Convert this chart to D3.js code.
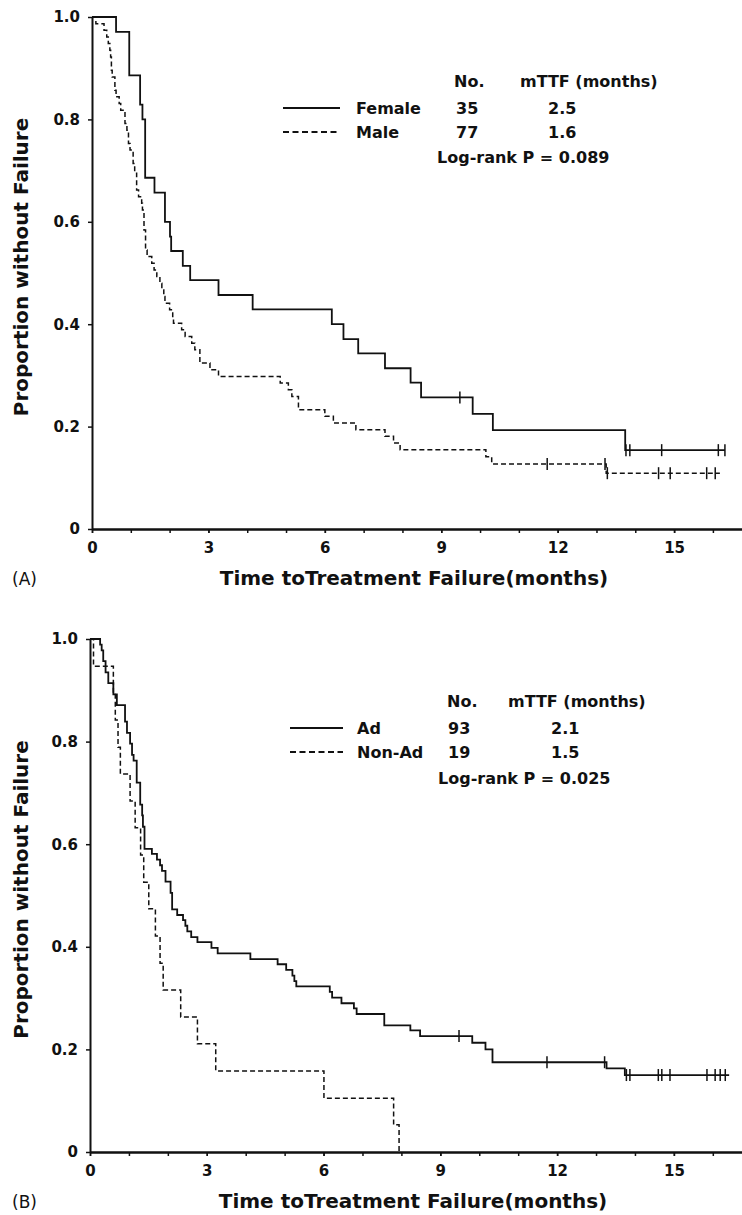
<!DOCTYPE html>
<html>
<head>
<meta charset="utf-8">
<script src="https://cdn.jsdelivr.net/npm/d3@7"></script>
<style>
  body { margin: 0; background: #fff; }
  svg text { font-family: "DejaVu Sans", sans-serif; font-weight: bold; fill: #111; }
</style>
</head>
<body>
<svg id="chart" width="742" height="1215"></svg>
<script>
// ---- values ----
var xTicks = [0, 3, 6, 9, 12, 15];
var xMinorTicks = [0, 1, 2, 3, 4, 5, 6, 7, 8, 9, 10, 11, 12, 13, 14, 15, 16];
var yTicks = [0, 0.2, 0.4, 0.6, 0.8, 1.0];
var yTickLabels = ["0", "0.2", "0.4", "0.6", "0.8", "1.0"];

// (A) female / male
var femaleTime = [0.62, 0.96, 1.24, 1.30, 1.37, 1.61, 1.88, 2.01, 2.04, 2.34, 2.53, 3.26, 4.14, 6.18, 6.48, 6.86, 7.55, 8.21, 8.48, 9.81, 10.33, 13.74];
var femaleSurv = [0.971, 0.886, 0.829, 0.800, 0.686, 0.657, 0.600, 0.571, 0.543, 0.514, 0.486, 0.457, 0.429, 0.400, 0.371, 0.343, 0.314, 0.286, 0.257, 0.225, 0.193, 0.154];
var femaleCensor = [9.48, 13.76, 13.86, 14.68, 16.14, 16.31];
var femaleEnd = 16.31;

var maleTime = [0.10, 0.31, 0.38, 0.42, 0.46, 0.48, 0.50, 0.52, 0.59, 0.62, 0.70, 0.74, 0.85, 0.90, 0.94, 0.98, 1.06, 1.10, 1.15, 1.20, 1.28, 1.30, 1.34, 1.38, 1.42, 1.54, 1.60, 1.67, 1.75, 1.80, 1.85, 1.88, 2.00, 2.08, 2.10, 2.31, 2.40, 2.57, 2.65, 2.78, 3.04, 3.26, 4.85, 5.06, 5.15, 5.32, 6.00, 6.22, 6.80, 7.55, 7.77, 7.94, 10.15, 10.30, 13.25];
var maleSurv = [0.987, 0.974, 0.961, 0.948, 0.935, 0.922, 0.896, 0.883, 0.857, 0.844, 0.831, 0.818, 0.792, 0.779, 0.753, 0.740, 0.714, 0.695, 0.662, 0.649, 0.636, 0.623, 0.584, 0.545, 0.532, 0.519, 0.506, 0.493, 0.480, 0.467, 0.454, 0.441, 0.428, 0.415, 0.402, 0.389, 0.376, 0.363, 0.350, 0.324, 0.311, 0.298, 0.285, 0.272, 0.259, 0.233, 0.220, 0.207, 0.194, 0.181, 0.168, 0.155, 0.141, 0.127, 0.109];
var maleCensor = [11.73, 13.22, 13.28, 14.60, 14.90, 15.84, 16.06];
var maleEnd = 16.18;

// (B) Ad / Non-Ad
var adTime = [0.26, 0.30, 0.34, 0.40, 0.47, 0.60, 0.69, 0.90, 0.95, 1.03, 1.08, 1.12, 1.20, 1.29, 1.34, 1.36, 1.40, 1.59, 1.72, 1.80, 1.85, 1.94, 2.07, 2.11, 2.24, 2.39, 2.45, 2.50, 2.60, 2.76, 3.12, 3.28, 4.12, 4.82, 5.04, 5.20, 5.25, 5.30, 6.16, 6.22, 6.46, 6.78, 6.85, 7.56, 8.23, 8.48, 9.82, 10.16, 10.34, 13.27, 13.74];
var adSurv = [0.989, 0.978, 0.957, 0.935, 0.914, 0.892, 0.871, 0.839, 0.817, 0.796, 0.774, 0.763, 0.720, 0.677, 0.656, 0.634, 0.591, 0.581, 0.570, 0.559, 0.548, 0.527, 0.505, 0.473, 0.462, 0.452, 0.441, 0.430, 0.419, 0.409, 0.398, 0.387, 0.376, 0.366, 0.355, 0.344, 0.333, 0.323, 0.312, 0.301, 0.290, 0.280, 0.269, 0.247, 0.237, 0.226, 0.213, 0.200, 0.175, 0.163, 0.150];
var adCensor = [9.48, 11.74, 13.22, 13.78, 13.87, 14.60, 14.69, 14.90, 15.85, 16.06, 16.19, 16.32];
var adEnd = 16.42;

var nonAdTime = [0.09, 0.60, 0.65, 0.72, 0.78, 1.03, 1.16, 1.30, 1.38, 1.51, 1.68, 1.80, 1.88, 2.33, 2.76, 3.23, 6.01, 7.80, 7.94];
var nonAdSurv = [0.947, 0.895, 0.842, 0.789, 0.737, 0.684, 0.632, 0.579, 0.526, 0.474, 0.421, 0.368, 0.316, 0.263, 0.211, 0.158, 0.105, 0.053, 0.000];
var nonAdCensor = [];
var nonAdEnd = 7.94;

// legend tables
var legendA = [["Female", "35", "2.5"], ["Male", "77", "1.6"]];
var legendB = [["Ad", "93", "2.1"], ["Non-Ad", "19", "1.5"]];
var pValueA = "Log-rank P = 0.089";
var pValueB = "Log-rank P = 0.025";

var svg = d3.select("#chart");

function stepPoints(times, surv, end) {
  var pts = [[0, 1]];
  times.forEach(function(t, i) { pts.push([t, surv[i]]); });
  pts.push([end, surv[surv.length - 1]]);
  return pts;
}

function survAt(times, surv, t) {
  var s = 1;
  times.forEach(function(tt, i) { if (tt <= t) s = surv[i]; });
  return s;
}

function drawPanel(p) {
  var x = d3.scaleLinear().domain([0, 16.75]).range([p.left, 742]);
  var y = d3.scaleLinear().domain([0, 1]).range([p.bottom, p.top]);
  var g = svg.append("g");

  // axes
  var xMinor = g.append("g")
      .attr("transform", "translate(0," + p.bottom + ")")
      .call(d3.axisBottom(x).tickValues(xMinorTicks).tickFormat("").tickSize(4).tickSizeOuter(0));
  var xAxis = g.append("g")
      .attr("transform", "translate(0," + p.bottom + ")")
      .call(d3.axisBottom(x).tickValues(xTicks).tickSize(4).tickSizeOuter(0).tickPadding(9));
  var yAxis = g.append("g")
      .attr("transform", "translate(" + p.left + ",0)")
      .call(d3.axisLeft(y).tickValues(yTicks).tickFormat(function(d, i) { return yTickLabels[i]; })
        .tickSize(4).tickSizeOuter(0).tickPadding(8));

  g.selectAll(".domain").attr("stroke", "#111").attr("stroke-width", 2);
  g.selectAll(".tick line").attr("stroke", "#111").attr("stroke-width", 1.5);
  g.selectAll(".tick text").style("font-size", "15px").attr("fill", "#111");

  // curves
  var line = d3.line()
      .x(function(d) { return x(d[0]); })
      .y(function(d) { return y(d[1]); })
      .curve(d3.curveStepAfter);

  p.series.forEach(function(s) {
    g.append("path")
        .datum(stepPoints(s.time, s.surv, s.end))
        .attr("fill", "none")
        .attr("stroke", "#111")
        .attr("stroke-width", s.dashed ? 1.5 : 1.8)
        .attr("stroke-dasharray", s.dashed ? "5,3" : null)
        .attr("d", line);

    g.selectAll(null)
        .data(s.censor)
        .enter().append("line")
        .attr("x1", function(t) { return x(t); })
        .attr("x2", function(t) { return x(t); })
        .attr("y1", function(t) { return y(survAt(s.time, s.surv, t)) - 6; })
        .attr("y2", function(t) { return y(survAt(s.time, s.surv, t)) + 6; })
        .attr("stroke", "#111")
        .attr("stroke-width", 1.5);
  });

  // legend
  var L = p.legend;
  g.append("text").attr("x", L.noX).attr("y", L.rows[0]).style("font-size", "16px").text("No.");
  g.append("text").attr("x", L.mttfX).attr("y", L.rows[0]).style("font-size", "16px").text("mTTF (months)");
  p.legendRows.forEach(function(r, i) {
    var yy = L.rows[i + 1];
    g.append("line")
        .attr("x1", L.lineX1).attr("x2", L.lineX2)
        .attr("y1", yy - 6).attr("y2", yy - 6)
        .attr("stroke", "#111")
        .attr("stroke-width", 1.8)
        .attr("stroke-dasharray", i === 1 ? "6,3.5" : null);
    g.append("text").attr("x", L.labelX).attr("y", yy).style("font-size", "16px").text(r[0]);
    g.append("text").attr("x", L.countX).attr("y", yy).style("font-size", "16px").text(r[1]);
    g.append("text").attr("x", L.medX).attr("y", yy).style("font-size", "16px").text(r[2]);
  });
  g.append("text").attr("x", L.logX).attr("y", L.rows[3]).style("font-size", "16px").text(p.pValue);

  // titles
  g.append("text")
      .attr("x", (p.left + 742) / 2 - 3)
      .attr("y", p.bottom + 56)
      .attr("text-anchor", "middle")
      .style("font-size", "20px")
      .text("Time toTreatment Failure(months)");
  g.append("text")
      .attr("transform", "translate(28," + ((p.top + p.bottom) / 2 - 6) + ") rotate(-90)")
      .attr("text-anchor", "middle")
      .style("font-size", "20px")
      .text("Proportion without Failure");
  g.append("text")
      .attr("x", 12)
      .attr("y", p.bottom + 56)
      .style("font-size", "17px")
      .style("font-weight", "normal")
      .text(p.tag);
}

drawPanel({
  left: 92, top: 17, bottom: 529, tag: "(A)",
  series: [
    { time: femaleTime, surv: femaleSurv, censor: femaleCensor, end: femaleEnd, dashed: false },
    { time: maleTime, surv: maleSurv, censor: maleCensor, end: maleEnd, dashed: true }
  ],
  legendRows: legendA, pValue: pValueA,
  legend: { lineX1: 283, lineX2: 340, labelX: 356, noX: 454, countX: 456, mttfX: 520, medX: 548, logX: 437, rows: [87, 114, 138, 163] }
});

drawPanel({
  left: 90, top: 639, bottom: 1152, tag: "(B)",
  series: [
    { time: adTime, surv: adSurv, censor: adCensor, end: adEnd, dashed: false },
    { time: nonAdTime, surv: nonAdSurv, censor: nonAdCensor, end: nonAdEnd, dashed: true }
  ],
  legendRows: legendB, pValue: pValueB,
  legend: { lineX1: 290, lineX2: 343, labelX: 357, noX: 447, countX: 448, mttfX: 508, medX: 551, logX: 438, rows: [707, 734, 758, 784] }
});
</script>
</body>
</html>
